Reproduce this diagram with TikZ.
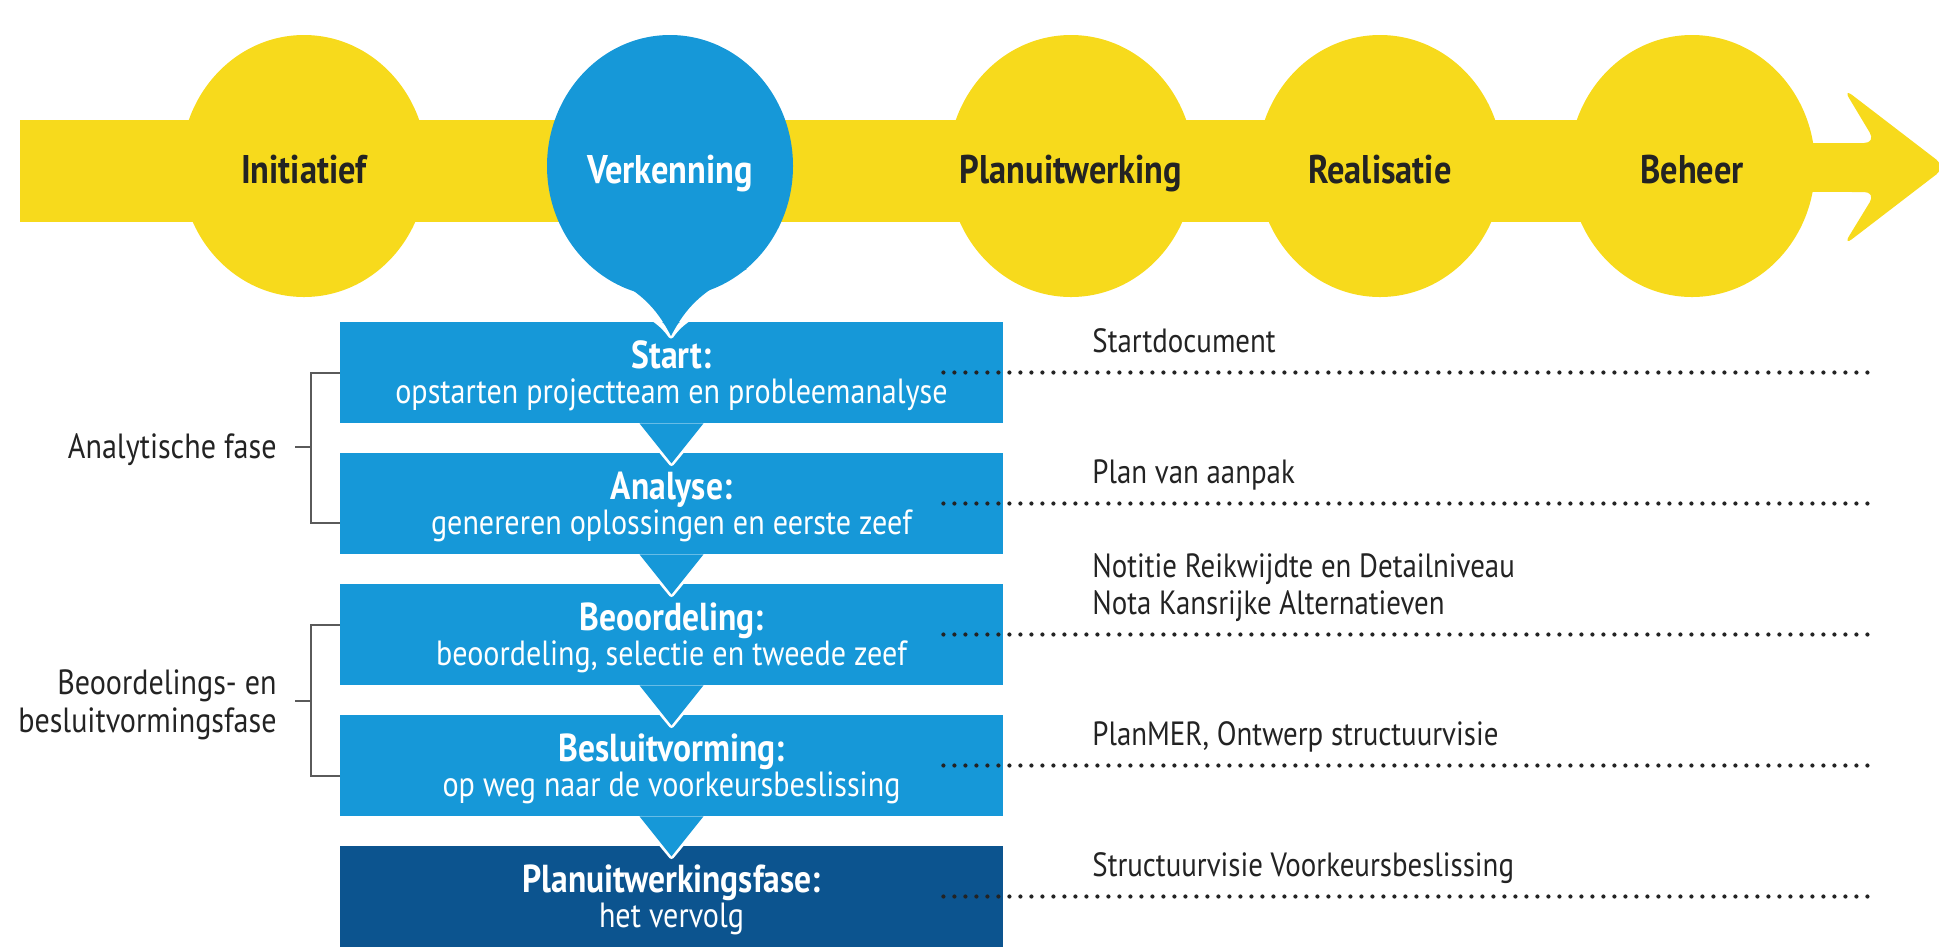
\documentclass[tikz,border=0pt]{standalone}
\usepackage{fontspec}
\setmainfont{PT Sans}[FakeStretch=0.86]
\usetikzlibrary{shapes.geometric}
\definecolor{yel}{RGB}{247,218,28}
\definecolor{blu}{RGB}{22,152,216}
\definecolor{dblu}{RGB}{12,84,143}
\definecolor{ink}{RGB}{35,35,35}
\newcommand\fttl{\fontsize{19.5}{22}\selectfont\bfseries}
\newcommand\fbody{\fontsize{17.5}{20}\selectfont}
\newcommand\flab{\fontsize{20}{22}\selectfont\bfseries}
\newcommand\fdoc{\fontsize{16.8}{20}\selectfont}
\newcommand\fside{\fontsize{17.5}{20}\selectfont}
\begin{document}
\begin{tikzpicture}[x=0.5pt,y=-0.5pt,
  box/.style={rectangle, inner sep=0pt, minimum width=331.5pt, minimum height=50.5pt, fill=blu},
  blob/.style={ellipse, inner sep=0pt, minimum width=123pt, minimum height=131pt},
  ttl/.style={anchor=base, text=white, font=\fttl, inner sep=0pt},
  sub/.style={anchor=base, text=white, font=\fbody, inner sep=0pt},
  lab/.style={anchor=base, text=ink, font=\flab, inner sep=0pt},
  doc/.style={anchor=base west, text=ink, font=\fdoc, inner sep=0pt},
  side/.style={anchor=base east, text=ink, font=\fside, inner sep=0pt, align=right},
  dots/.style={draw=ink, line width=2.1pt, line cap=round, dash pattern=on 0pt off 5.5pt},
  brk/.style={draw=ink!75, line width=1pt},
  halo/.style={draw=white, line width=2.6pt, line join=round},
]
\useasboundingbox (0,0) rectangle (1939,950);

% timeline band, narrower stem and arrow head
\fill[yel] (20,120) rectangle (1692,222);
\fill[yel] (1692,143) rectangle (1880,192);
\fill[yel, rounded corners=6pt] (1840,143) -- (1876,143) -- (1843,88) -- (1946,167) -- (1843,246) -- (1876,192) -- (1840,192) -- cycle;

% phase circles
\node[blob, fill=yel] (c1) at (304,166) {};
\node[blob, fill=yel] (c3) at (1071,166) {};
\node[blob, fill=yel] (c4) at (1380,166) {};
\node[blob, fill=yel] (c5) at (1692,166) {};

% step boxes
\node[box] (b1) at (671.5,372.5) {};
\node[box] (b2) at (671.5,503.5) {};
\node[box] (b3) at (671.5,634.5) {};
\node[box] (b4) at (671.5,765.5) {};
\node[box, fill=dblu] (b5) at (671.5,896.5) {};

% Verkenning bubble with pointer
\coordinate (tip0) at (671,336);
\draw[halo] (612,300) .. controls (645,312) and (660,320) .. (tip0) .. controls (682,320) and (697,312) .. (730,300);
\fill[blu] (595,269) .. controls (640,290) and (656,307) .. (tip0) .. controls (686,307) and (702,290) .. (747,269) -- cycle;
\node[blob, fill=blu] (c2) at (670,166) {};

% pointers between steps
\foreach \a in {b1,b2,b3,b4}{
  \draw[halo] ([xshift=-16pt,yshift=-0.6pt]\a.south) -- ([yshift=-20pt]\a.south) -- ([xshift=16pt,yshift=-0.6pt]\a.south);
  \fill[blu] ([xshift=-16pt]\a.south) -- ([yshift=-20pt]\a.south) -- ([xshift=16pt]\a.south) -- cycle;
}

% circle labels
\node[lab] (l1) at (304,183) {Initiatief};
\node[lab, text=white] (l2) at (670,183) {Verkenning};
\node[lab] (l3) at (1071,183) {Planuitwerking};
\node[lab] (l4) at (1380,183) {Realisatie};
\node[lab] (l5) at (1692,183) {Beheer};

% box texts
\node[ttl] (t1) at (671.5,368) {Start:};
\node[sub] (s1) at (671.5,403) {opstarten projectteam en probleemanalyse};
\node[ttl] (t2) at (671.5,499) {Analyse:};
\node[sub] (s2) at (671.5,534) {genereren oplossingen en eerste zeef};
\node[ttl] (t3) at (671.5,630) {Beoordeling:};
\node[sub] (s3) at (671.5,665) {beoordeling, selectie en tweede zeef};
\node[ttl] (t4) at (671.5,761) {Besluitvorming:};
\node[sub] (s4) at (671.5,796) {op weg naar de voorkeursbeslissing};
\node[ttl] (t5) at (671.5,892) {Planuitwerkingsfase:};
\node[sub] (s5) at (671.5,927) {het vervolg};

% dotted output lines
\coordinate (e1) at (1873,372.5);
\coordinate (e2) at (1873,503.5);
\coordinate (e3) at (1873,634.5);
\coordinate (e4) at (1873,765.5);
\coordinate (e5) at (1873,896.5);
\draw[dots] ([xshift=-30pt]b1.east) -- (e1);
\draw[dots] ([xshift=-30pt]b2.east) -- (e2);
\draw[dots] ([xshift=-30pt]b3.east) -- (e3);
\draw[dots] ([xshift=-30pt]b4.east) -- (e4);
\draw[dots] ([xshift=-30pt]b5.east) -- (e5);

% documents
\node[doc] (d1) at (1092,352) {Startdocument};
\node[doc] (d2) at (1092,483) {Plan van aanpak};
\node[doc] (d3a) at (1092,577) {Notitie Reikwijdte en Detailniveau};
\node[doc] (d3b) at (1092,614) {Nota Kansrijke Alternatieven};
\node[doc] (d4) at (1092,745) {PlanMER, Ontwerp structuurvisie};
\node[doc] (d5) at (1092,876) {Structuurvisie Voorkeursbeslissing};

% brackets
\coordinate (k1) at (311,447);
\coordinate (k2) at (311,700.5);
\draw[brk] (b1.west) -| (311,523) -- (340,523);
\draw[brk] (k1) -- ++(-16,0) coordinate (m1);
\draw[brk] (340,625) -- (311,625) -- (311,776) -- (340,776);
\draw[brk] (k2) -- ++(-16,0) coordinate (m2);
\node[side] (g1) at (277,458) {Analytische fase};
\node[side] (g2) at (277,694) {Beoordelings- en};
\node[side] (g3) at (277,732) {besluitvormingsfase};
\end{tikzpicture}
\end{document}
